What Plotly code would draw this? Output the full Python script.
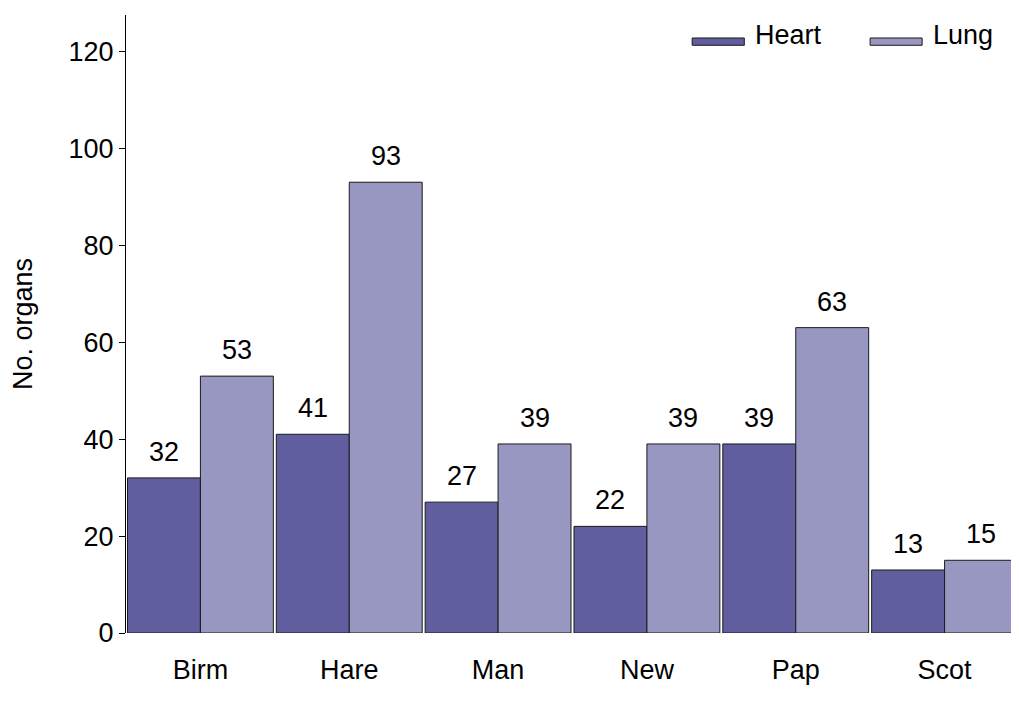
import plotly.graph_objects as go

categories = ["Birm", "Hare", "Man", "New", "Pap", "Scot"]
heart = [32, 41, 27, 22, 39, 13]
lung = [53, 93, 39, 39, 63, 15]
series_names = ["Heart", "Lung"]
colors = ["#605e9e", "#9897c2"]
y_ticks = [0, 20, 40, 60, 80, 100, 120]

FONT = "Liberation Sans, Arial, sans-serif"
FS = 27

fig = go.Figure()
for name, vals, col in zip(series_names, [heart, lung], colors):
    fig.add_trace(go.Bar(
        x=categories, y=vals, name=name,
        marker=dict(color=col, line=dict(color="#1a1a1a", width=1)),
        showlegend=False,
    ))

# value labels above bars
offsets = [-0.245, 0.245]
for vals, off in zip([heart, lung], offsets):
    for i, v in enumerate(vals):
        fig.add_annotation(x=i + off, y=v, xref="x", yref="y", text=str(v),
                           showarrow=False, yanchor="bottom", yshift=9,
                           font=dict(family=FONT, size=FS, color="black"))

# custom legend
leg = [(0.634, 0.6924, 0.7025), (0.8333, 0.8915, 0.9016)]
for (x0, x1, tx), name, col in zip(leg, series_names, colors):
    fig.add_shape(type="rect", xref="paper", yref="paper", x0=x0, x1=x1,
                  y0=0.951, y1=0.9628, fillcolor=col,
                  line=dict(color="#1a1a1a", width=1))
    fig.add_annotation(x=tx, y=0.9676, xref="paper", yref="paper", text=name,
                       showarrow=False, xanchor="left", yanchor="middle",
                       font=dict(family=FONT, size=FS, color="black"))

fig.update_layout(
    width=1011, height=703,
    margin=dict(l=118, r=0, t=7, b=78),
    paper_bgcolor="white", plot_bgcolor="white",
    barmode="group", bargap=0.02, bargroupgap=0,
    font=dict(family=FONT, size=FS, color="black"),
    showlegend=False,
)
fig.update_xaxes(showline=False, ticks="", showgrid=False, zeroline=False,
                 ticklabelstandoff=18, tickfont=dict(family=FONT, size=FS))
fig.update_yaxes(range=[0, 127.5], tickvals=y_ticks, showline=True,
                 linecolor="black", linewidth=1, ticks="outside", ticklen=6,
                 tickcolor="black", showgrid=False, zeroline=False,
                 title=dict(text="No. organs", standoff=32,
                            font=dict(family=FONT, size=FS)),
                 tickfont=dict(family=FONT, size=FS))

fig.write_html("out.html")
